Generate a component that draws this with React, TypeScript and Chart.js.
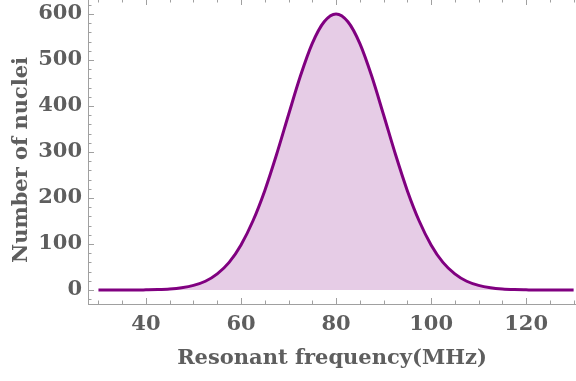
import React, { useEffect, useRef } from "react";
import { Chart, registerables } from "chart.js";

Chart.register(...registerables);

// Resonant frequency (MHz)
const frequencies = [
  30, 32.5, 35, 37.5, 40, 42.5, 45, 47.5, 50, 52.5, 55, 57.5, 60, 62.5, 65, 67.5,
  70, 72.5, 75, 77.5, 80, 82.5, 85, 87.5, 90, 92.5, 95, 97.5, 100, 102.5, 105,
  107.5, 110, 112.5, 115, 117.5, 120, 122.5, 125, 127.5, 130,
];
// Number of nuclei
const nuclei = [
  0, 0, 0, 0, 0.4, 1, 2.3, 5, 10, 19, 35, 60, 98, 150, 216, 295,
  381, 465, 536, 583, 600, 583, 536, 465, 381, 295, 216, 150, 98, 60, 35,
  19, 10, 5, 2.3, 1, 0.4, 0, 0, 0, 0,
];
const xTickLabels = [40, 60, 80, 100, 120];
const yTickLabels = [0, 100, 200, 300, 400, 500, 600];
const xTitle = "Resonant frequency(MHz)";
const yTitle = "Number of nuclei";

const TEXT = "#5e5e5e";
const AXIS = "#a0a0a0";
const FONT = "'DejaVu Serif', serif";
const SIZE = 21;

const frameTicks = {
  id: "frameTicks",
  beforeDatasetsDraw(chart: any) {
    const { ctx, chartArea } = chart;
    const xs = chart.scales.x;
    const ys = chart.scales.y;
    ctx.save();
    ctx.strokeStyle = AXIS;
    ctx.lineWidth = 1;
    ctx.beginPath();
    for (let v = 30; v <= 130; v += 5) {
      const px = Math.round(xs.getPixelForValue(v)) + 0.5;
      const len = v % 20 === 0 ? 6 : 3.5;
      ctx.moveTo(px, chartArea.bottom);
      ctx.lineTo(px, chartArea.bottom - len);
      ctx.moveTo(px, chartArea.top);
      ctx.lineTo(px, chartArea.top + len - 1);
    }
    for (let v = -20; v <= 620; v += 20) {
      const py = Math.round(ys.getPixelForValue(v)) + 0.5;
      const len = v % 100 === 0 ? 6 : 3.5;
      ctx.moveTo(chartArea.left, py);
      ctx.lineTo(chartArea.left + len, py);
    }
    ctx.stroke();
    ctx.restore();
  },
  afterDraw(chart: any) {
    const { ctx } = chart;
    ctx.save();
    ctx.translate(22, 160);
    ctx.rotate(-Math.PI / 2);
    ctx.font = `bold ${SIZE}px ${FONT}`;
    ctx.fillStyle = TEXT;
    ctx.textAlign = "center";
    ctx.textBaseline = "middle";
    ctx.fillText(yTitle, 0, 0);
    ctx.restore();
  },
};

export default function App() {
  const ref = useRef<HTMLCanvasElement | null>(null);
  useEffect(() => {
    if (!ref.current) return;
    const chart = new Chart(ref.current, {
      type: "line",
      data: {
        datasets: [
          {
            data: frequencies.map((f, i) => ({ x: f, y: nuclei[i] })),
            borderColor: "rgb(128,0,128)",
            backgroundColor: "rgba(128,0,128,0.2)",
            borderWidth: 3,
            pointRadius: 0,
            fill: "origin",
            cubicInterpolationMode: "monotone",
          },
        ],
      },
      options: {
        animation: false,
        responsive: false,
        layout: { padding: 0 },
        plugins: { legend: { display: false }, tooltip: { enabled: false } },
        scales: {
          x: {
            type: "linear",
            min: 27.8,
            max: 130.5,
            afterBuildTicks: (s: any) => {
              s.ticks = xTickLabels.map((v) => ({ value: v }));
            },
            afterFit: (s: any) => {
              s.height = 77;
              s.paddingLeft = 0;
              s.paddingRight = 0;
              s.paddingTop = 0;
              s.paddingBottom = 0;
            },
            grid: { display: true, drawOnChartArea: false, drawTicks: false },
            border: { display: true, color: AXIS, width: 1 },
            ticks: {
              color: TEXT,
              font: { family: FONT, size: SIZE, weight: "bold" },
              padding: 8,
              maxRotation: 0,
            },
            title: {
              display: true,
              text: xTitle,
              color: TEXT,
              font: { family: FONT, size: SIZE, weight: "bold" },
              padding: { top: 0, bottom: 10 },
            },
          },
          y: {
            type: "linear",
            min: -30.4,
            max: 630.4,
            afterBuildTicks: (s: any) => {
              s.ticks = yTickLabels.map((v) => ({ value: v }));
            },
            afterFit: (s: any) => {
              s.width = 88;
              s.paddingLeft = 0;
              s.paddingRight = 0;
              s.paddingTop = 0;
              s.paddingBottom = 0;
            },
            grid: { display: true, drawOnChartArea: false, drawTicks: false },
            border: { display: true, color: AXIS, width: 1 },
            ticks: {
              color: TEXT,
              font: { family: FONT, size: SIZE, weight: "bold" },
              padding: 6,
            },
          },
        },
      },
      plugins: [frameTicks],
    } as any);
    return () => chart.destroy();
  }, []);
  return (
    <div style={{ position: "absolute", left: 0, top: 0, width: 576, height: 381, background: "#fff" }}>
      <canvas ref={ref} width={576} height={381} style={{ display: "block" }} />
    </div>
  );
}
